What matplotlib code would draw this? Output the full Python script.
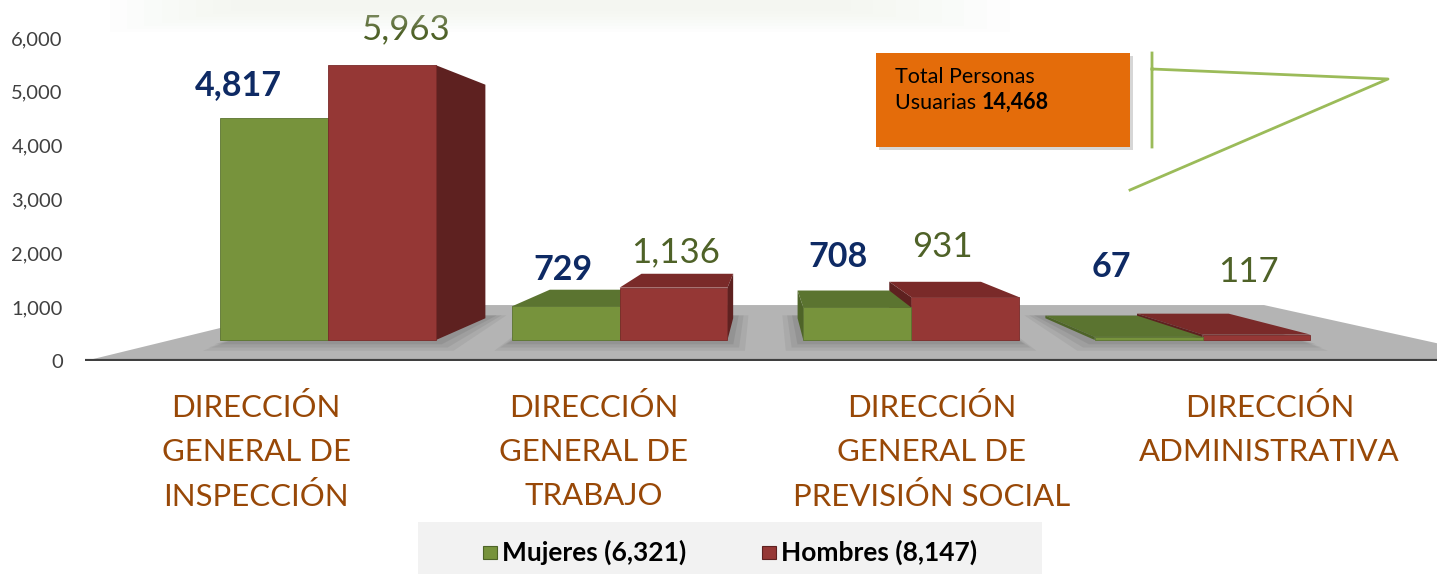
import numpy as np
import matplotlib.pyplot as plt
from matplotlib.patches import Polygon, Rectangle

plt.rcParams['font.family'] = ['Lato', 'DejaVu Sans']

categories = ['DIRECCIÓN\nGENERAL DE\nINSPECCIÓN', 'DIRECCIÓN\nGENERAL DE\nTRABAJO',
              'DIRECCIÓN\nGENERAL DE\nPREVISIÓN SOCIAL', 'DIRECCIÓN\nADMINISTRATIVA']
mujeres = [4817, 729, 708, 67]
hombres = [5963, 1136, 931, 117]
yticks = [0, 1000, 2000, 3000, 4000, 5000, 6000]
total = 14468

# fake 3d settings
VX, VY = 1.5, 3084      # vanishing point (data units)
DEPTH = 0.15
BASE = 390
SCALE = 0.856
BW = 0.37

GREEN = ('#77933c', '#5b7430', '#4e6428')
RED = ('#953735', '#7a2a29', '#5e2120')


def proj(x, y, t=DEPTH):
    return x + t * (VX - x), y + t * (VY - y)


def draw_box(ax, x0, x1, v, cols):
    y0, y1 = BASE, BASE + SCALE * v
    if y1 < VY:
        ax.add_patch(Polygon([(x0, y1), (x1, y1), proj(x1, y1), proj(x0, y1)],
                             closed=True, fc=cols[1], ec='none', zorder=3))
    if x1 < VX:
        ax.add_patch(Polygon([(x1, y0), (x1, y1), proj(x1, y1), proj(x1, y0)],
                             closed=True, fc=cols[2], ec='none', zorder=3))
    if x0 > VX:
        ax.add_patch(Polygon([(x0, y0), (x0, y1), proj(x0, y1), proj(x0, y0)],
                             closed=True, fc=cols[2], ec='none', zorder=3))
    ax.add_patch(Rectangle((x0, y0), x1 - x0, y1 - y0, fc=cols[0], ec=cols[1],
                           lw=0.6, zorder=4))
    return y1


fig = plt.figure(figsize=(14.37, 5.74), dpi=100)
ax = fig.add_axes([85 / 1437, 213 / 574, 1 - 85 / 1437, 361 / 574])
ax.set_xlim(-0.834, 3.804)
ax.set_ylim(0, 6706)
ax.set_clip_on(False)
for s in ax.spines.values():
    s.set_visible(False)
ax.set_xticks([])
ax.set_yticks(yticks)
ax.set_yticklabels([f'{t:,}' for t in yticks], fontsize=14.5, color='#404040')
ax.tick_params(axis='y', length=0, pad=16)

# faint glow at the top
for k in range(8):
    fig.patches.append(Rectangle((110 / 1437 + k * 0.012, 1 - (32 - k * 3) / 574),
                                 (900 - k * 40) / 1437, (32 - k * 3) / 574,
                                 transform=fig.transFigure, fc='#e6ebe0',
                                 ec='none', alpha=0.05, zorder=0))

# floor
fx0, fx1 = -0.834, 4.08
fd = 0.337
floor = [(fx0, 0), (fx1, 0), proj(fx1, 0, fd), proj(fx0, 0, fd)]
ax.add_patch(Polygon(floor, closed=True, fc='#b4b4b4', ec='none', zorder=1))
ax.plot([fx0, 3.804], [0, 0], color='#3f3f3f', lw=3, zorder=2, solid_capstyle='butt')

# soft shadows under each group
for i in range(len(categories)):
    for k, a in enumerate([0.10, 0.12, 0.15]):
        g = 0.06 - k * 0.02
        xa, xb = i - BW - g, i + BW + g
        ya, yb = BASE - 200 + k * 60, BASE
        pts = [(xa, ya), (xb, ya), proj(xb, yb, DEPTH + 0.02), proj(xa, yb, DEPTH + 0.02)]
        ax.add_patch(Polygon(pts, closed=True, fc='#555555', ec='none',
                             alpha=a, zorder=2))

# bars
m_dx = [-36, -3, -19, -37]
m_dy = [33, 36, 50, 70]
h_dx = [23, 2, -23, -8]
h_dy = [36, 35, 50, 63]
for i in range(len(categories)):
    boxes = [('m', i - BW, i, mujeres[i], GREEN), ('h', i, i + BW, hombres[i], RED)]
    if i + 0.0 > VX:
        boxes = boxes[::-1]
    tops = {}
    for key, x0, x1, v, cols in boxes:
        tops[key] = draw_box(ax, x0, x1, v, cols)
    ax.annotate(f'{mujeres[i]:,}', (i - BW / 2, tops['m']), xytext=(m_dx[i], m_dy[i]),
                textcoords='offset pixels', ha='center', va='center',
                fontsize=24.5, fontweight='bold', color='#0e2a64', zorder=6)
    ax.annotate(f'{hombres[i]:,}', (i + BW / 2, tops['h']), xytext=(h_dx[i], h_dy[i]),
                textcoords='offset pixels', ha='center', va='center',
                fontsize=25, color='#4f6228', zorder=6)

# category labels
for i, c in enumerate(categories):
    ax.text(-0.247 + 1.159 * i, -600, c, ha='center', va='top', fontsize=22.4,
            color='#984807', linespacing=1.68, clip_on=False)

# total box with callout lines
fig.patches.append(Rectangle((879 / 1437, 1 - 150 / 574), 254 / 1437, 94 / 574,
                             transform=fig.transFigure, fc='#d6d6d6', ec='none', zorder=1))
fig.patches.append(Rectangle((876 / 1437, 1 - 147 / 574), 254 / 1437, 94 / 574,
                             transform=fig.transFigure, fc='#e46c0a', ec='none', zorder=2))
fig.text(895 / 1437, 1 - 77 / 574, 'Total Personas', fontsize=15.5, color='black',
         va='center', zorder=3)
t1 = fig.text(895 / 1437, 1 - 109 / 574, 'Usuarias ', fontsize=15.5, color='black',
              va='baseline', zorder=3)
fig.canvas.draw()
bb = t1.get_window_extent()
fig.text(bb.x1 / 1437, 1 - 109 / 574, f'{total:,}', fontsize=15.5, fontweight='bold',
         color='black', va='baseline', zorder=3)
lx = np.array([1152, 1152, np.nan, 1152, 1388, 1130]) / 1437
ly = 1 - np.array([53, 147, np.nan, 69, 79, 190]) / 574
fig.add_artist(plt.Line2D(lx, ly, color='#9bbb59', lw=2, transform=fig.transFigure))

# legend
fig.patches.append(Rectangle((418 / 1437, 0), 624 / 1437, 52 / 574,
                             transform=fig.transFigure, fc='#f2f2f2', ec='none'))
for x, cols, lab in [(483, GREEN, f'Mujeres ({sum(mujeres):,})'),
                     (762, RED, f'Hombres ({sum(hombres):,})')]:
    fig.patches.append(Rectangle((x / 1437, 1 - 559 / 574), 14 / 1437, 13 / 574,
                                 transform=fig.transFigure, fc=cols[0], ec=cols[2], lw=0.8))
    fig.text((x + 19) / 1437, 1 - 552 / 574, lab, fontsize=19, fontweight='bold',
             color='black', va='center')

fig.savefig('out.png', dpi=100)
